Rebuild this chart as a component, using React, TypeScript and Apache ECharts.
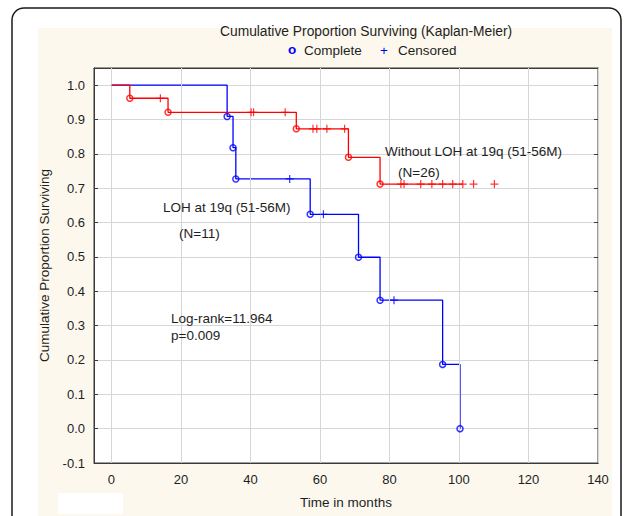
import React, { useEffect, useRef } from "react";
import * as echarts from "echarts";

// ---- data ----
const xTicks = [0, 20, 40, 60, 80, 100, 120, 140];

// LOH at 19q (N=11) – blue
const blueTimes = [0, 33.3, 35.0, 35.8, 57.2, 71.1, 77.3, 95.3, 100.3];
const blueSurv = [1.0, 0.909, 0.818, 0.727, 0.624, 0.499, 0.374, 0.187, 0.0];
const blueCensorTimes = [51.3, 61.0, 81.3];

// Without LOH at 19q (N=26) – red
const redTimes = [0, 5.3, 16.3, 53.2, 68.2, 77.3];
const redSurv = [1.0, 0.962, 0.921, 0.873, 0.79, 0.712];
const redLineEnd = 101.1;
const redCensorTimes = [
  14.1, 40.2, 40.9, 50.0, 58.0, 59.1, 62.0, 67.1, 83.3, 84.2, 89.0, 92.2, 95.3,
  98.2, 101.1, 104.2, 110.2,
];

const FONT = '"Liberation Sans", Arial, Helvetica, sans-serif';
const TXT = "#1e1e1e";
const BLUE = "#0000ff";
const RED = "#ff0000";
const GRIDC = "#d6d6d6";
const AXC = "#3a3a3a";
const PLUS = "path://M5,0L5,10M0,5L10,5";

function survAt(times: number[], surv: number[], t: number) {
  let v = surv[0];
  for (let i = 0; i < times.length; i++) if (times[i] <= t) v = surv[i];
  return v;
}

export default function App() {
  const ref = useRef<HTMLDivElement>(null);
  useEffect(() => {
    if (!ref.current) return;
    const chart = echarts.init(ref.current, undefined, { renderer: "svg" });

    const blueCurve = blueTimes.map((t, i) => [t, blueSurv[i]]);
    const redCurve = redTimes.map((t, i) => [t, redSurv[i]]);
    redCurve.push([redLineEnd, redSurv[redSurv.length - 1]]);
    const blueEvents = blueTimes.slice(1).map((t, i) => [t, blueSurv[i + 1]]);
    const redEvents = redTimes.slice(1).map((t, i) => [t, redSurv[i + 1]]);
    const blueCens = blueCensorTimes.map((t) => [t, survAt(blueTimes, blueSurv, t)]);
    const redCens = redCensorTimes.map((t) => [t, survAt(redTimes, redSurv, t)]);

    const txt = (text: string, x: number, y: number, size = 13.5, fill = TXT, weight = "normal") => ({
      type: "text",
      x,
      y,
      z: 100,
      style: {
        text,
        fill,
        font: `${weight} ${size}px ${FONT}`,
        align: "left",
        verticalAlign: "middle",
        textAlign: "left",
        textVerticalAlign: "middle",
      },
    });

    const isTenth = (v: number) => Math.abs(v * 10 - Math.round(v * 10)) < 1e-6;
    const line = { show: true, onZero: false, lineStyle: { color: AXC, width: 1 } };

    chart.setOption({
      animation: false,
      backgroundColor: "#ffffff",
      textStyle: { fontFamily: FONT },
      grid: {
        left: 94,
        right: 34,
        top: 68,
        bottom: 53,
        show: true,
        backgroundColor: "#ffffff",
        borderColor: AXC,
        borderWidth: 1,
        z: 0,
      },
      graphic: [
        {
          type: "rect",
          z: -10,
          silent: true,
          shape: { x: 38, y: 28, width: 574, height: 488 },
          style: { fill: "#fcf8ee" },
        },
        {
          type: "rect",
          z: -9,
          silent: true,
          shape: { x: 58, y: 493, width: 65, height: 21 },
          style: { fill: "#ffffff" },
        },
        {
          type: "rect",
          z: -8,
          silent: true,
          shape: { x: 12, y: 8, width: 609, height: 560, r: 12 },
          style: { fill: "none", stroke: "#1a1a1a", lineWidth: 1.5 },
        },
        txt("Cumulative Proportion Surviving (Kaplan-Meier)", 220, 31, 13.8),
        txt("o", 288, 49.5, 13.5, BLUE, "bold"),
        txt("Complete", 304, 50),
        txt("+", 380, 50, 13.5, BLUE),
        txt("Censored", 398, 50),
        txt("Without LOH at 19q (51-56M)", 385, 151),
        txt("(N=26)", 398, 172),
        txt("LOH at 19q (51-56M)", 163, 207),
        txt("(N=11)", 179, 233),
        txt("Log-rank=11.964", 171, 318),
        txt("p=0.009", 171, 335),
      ],
      xAxis: [
        {
          type: "value",
          position: "bottom",
          z: 3,
          min: -5,
          max: 140,
          name: "Time in months",
          nameLocation: "middle",
          nameGap: 32,
          nameTextStyle: { color: TXT, fontSize: 13.5, fontFamily: FONT },
          axisLine: line,
          axisTick: { show: true, inside: true, length: 4, customValues: xTicks, lineStyle: { color: AXC } },
          axisLabel: { show: true, customValues: xTicks, margin: 10, color: TXT, fontSize: 13, fontFamily: FONT },
          splitLine: { show: false },
        },
        {
          type: "value",
          position: "top",
          z: 3,
          min: -5,
          max: 140,
          axisLine: line,
          axisTick: { show: true, inside: true, length: 4, customValues: xTicks, lineStyle: { color: AXC } },
          axisLabel: { show: false },
          splitLine: { show: false },
        },
      ],
      yAxis: [
        {
          type: "value",
          position: "left",
          z: 1,
          min: -0.1,
          max: 1.05,
          interval: 0.1,
          name: "Cumulative Proportion Surviving",
          nameLocation: "middle",
          nameGap: 42,
          nameTextStyle: { color: TXT, fontSize: 13.5, fontFamily: FONT },
          axisLine: line,
          axisTick: { show: true, inside: true, length: 4, lineStyle: { color: AXC } },
          axisLabel: {
            show: true,
            margin: 9,
            color: TXT,
            fontSize: 13,
            fontFamily: FONT,
            showMaxLabel: false,
            formatter: (v: number) => (isTenth(v) ? v.toFixed(1) : ""),
          },
          splitLine: { show: true, lineStyle: { color: GRIDC, width: 1 } },
        },
        {
          type: "value",
          position: "right",
          z: 3,
          min: -0.1,
          max: 1.05,
          interval: 0.1,
          axisLine: line,
          axisTick: { show: true, inside: true, length: 4, lineStyle: { color: AXC } },
          axisLabel: { show: false },
          splitLine: { show: false },
        },
      ],
      series: [
        {
          name: "gridlines",
          type: "line",
          data: [[-5, -0.1]],
          symbol: "none",
          silent: true,
          lineStyle: { opacity: 0 },
          z: 2,
          markLine: {
            silent: true,
            symbol: "none",
            label: { show: false },
            animation: false,
            lineStyle: { color: GRIDC, width: 1, type: "solid" },
            data: xTicks.map((x) => ({ xAxis: x })),
          },
        },
        {
          name: "LOH at 19q (51-56M)",
          type: "line",
          step: "end",
          data: blueCurve,
          symbol: "none",
          lineStyle: { color: BLUE, width: 1.3 },
          z: 4,
        },
        {
          name: "Without LOH at 19q (51-56M)",
          type: "line",
          step: "end",
          data: redCurve,
          symbol: "none",
          lineStyle: { color: RED, width: 1.3 },
          z: 5,
        },
        {
          name: "Complete (LOH)",
          type: "scatter",
          data: blueEvents,
          symbol: "circle",
          symbolSize: 6,
          itemStyle: { color: "rgba(255,255,255,0)", borderColor: BLUE, borderWidth: 1.5 },
          z: 6,
        },
        {
          name: "Complete (without LOH)",
          type: "scatter",
          data: redEvents,
          symbol: "circle",
          symbolSize: 6,
          itemStyle: { color: "rgba(255,255,255,0)", borderColor: RED, borderWidth: 1.5 },
          z: 7,
        },
        {
          name: "Censored (LOH)",
          type: "scatter",
          data: blueCens,
          symbol: PLUS,
          symbolSize: 8,
          itemStyle: { color: "rgba(0,0,0,0)", borderColor: BLUE, borderWidth: 1.2 },
          z: 6,
        },
        {
          name: "Censored (without LOH)",
          type: "scatter",
          data: redCens,
          symbol: PLUS,
          symbolSize: 8,
          itemStyle: { color: "rgba(0,0,0,0)", borderColor: RED, borderWidth: 1.2 },
          z: 7,
        },
      ],
    });
    return () => chart.dispose();
  }, []);

  return <div ref={ref} style={{ width: 632, height: 516, position: "absolute", left: 0, top: 0 }} />;
}
